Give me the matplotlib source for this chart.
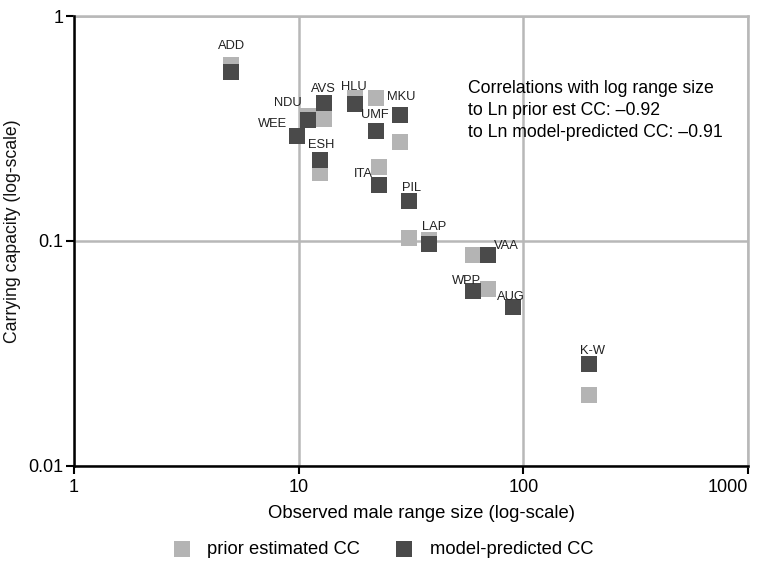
import matplotlib
matplotlib.use("Agg")
import matplotlib.pyplot as plt
import numpy as np

plt.rcParams['font.family'] = ['Liberation Sans', 'DejaVu Sans']

sites = ['ADD', 'AVS', 'NDU', 'WEE', 'HLU', 'UMF', 'MKU', 'ESH', 'ITA',
         'PIL', 'LAP', 'WPP', 'VAA', 'AUG', 'K-W']
range_size = [5.0, 12.9, 11.0, 9.8, 17.9, 22.1, 28.3, 12.5, 22.7,
              31.0, 38.0, 59.4, 69.6, 90.2, 197]
prior_cc = [0.608, 0.350, 0.360, 0.294, 0.432, 0.432, 0.275, 0.201, 0.213,
            0.103, 0.101, 0.087, 0.061, 0.051, 0.0207]
model_cc = [0.566, 0.410, 0.346, 0.294, 0.408, 0.310, 0.365, 0.230, 0.178,
            0.150, 0.097, 0.060, 0.087, 0.0508, 0.0284]

# label offsets (pixels) from the model-predicted marker
lab_off = {'ADD': (0, 26), 'AVS': (0, 14), 'NDU': (-20, 17), 'WEE': (-24, 12),
           'HLU': (-2, 17), 'UMF': (-1, 16), 'MKU': (1, 18), 'ESH': (1, 15),
           'ITA': (-15, 11), 'PIL': (3, 13), 'LAP': (5, 17), 'WPP': (-6, 10),
           'VAA': (18, 9), 'AUG': (-2, 10), 'K-W': (3, 13)}

light = '#b4b4b4'
dark = '#4a4a4a'
grid_c = '#b8b8b8'

fig = plt.figure(figsize=(7.58, 5.61), dpi=100)
ax = fig.add_axes([74/758, 1-465.5/561, (748-74)/758, (465.5-16.5)/561])

ax.set_xscale('log')
ax.set_yscale('log')
ax.set_xlim(1, 1000)
ax.set_ylim(0.01, 1)

ax.scatter(range_size, prior_cc, marker='s', s=135, color=light, linewidths=0,
           zorder=3, label='prior estimated CC')
ax.scatter(range_size, model_cc, marker='s', s=135, color=dark, linewidths=0,
           zorder=4, label='model-predicted CC')

for name, x, y in zip(sites, range_size, model_cc):
    dx, dy = lab_off[name]
    ax.annotate(name, (x, y), xytext=(dx, dy), textcoords='offset pixels',
                ha='center', va='center', fontsize=9.3, color='#222222', zorder=5)

ax.set_xticks([1, 10, 100, 1000])
ax.set_xticklabels(['1', '10', '100', '1000'])
ax.set_yticks([0.01, 0.1, 1])
ax.set_yticklabels(['0.01', '0.1', '1'])
ax.minorticks_off()
ax.tick_params(axis='both', direction='out', length=5.5, width=1.5, color='black',
               labelsize=13, pad=2)
ax.tick_params(axis='x', pad=4)
ax.get_xticklabels()[-1].set_horizontalalignment('right')
ax.grid(True, color=grid_c, linewidth=1.8, zorder=0)
ax.set_axisbelow(True)

for side in ['left', 'bottom']:
    ax.spines[side].set_color('black')
    ax.spines[side].set_linewidth(1.8)
    ax.spines[side].set_zorder(6)
for side in ['top', 'right']:
    ax.spines[side].set_color(grid_c)
    ax.spines[side].set_linewidth(1.8)

ax.set_xlabel('Observed male range size (log-scale)', fontsize=13.3)
ax.xaxis.set_label_coords(0.515, -0.087)
ax.set_ylabel('Carrying capacity (log-scale)', fontsize=12.7, color='#111111')
ax.yaxis.set_label_coords(-0.078, 0.522)

ax.text(0.585, 0.859, 'Correlations with log range size\n'
        'to Ln prior est CC: \u20130.92\n'
        'to Ln model-predicted CC: \u20130.91',
        transform=ax.transAxes, fontsize=12.7, va='top', ha='left',
        linespacing=1.38, zorder=2)

fig.legend(loc='center', bbox_to_anchor=(383/758, 1-549/561), ncol=2,
           frameon=False, fontsize=13.2, columnspacing=1.9, handlelength=1.0,
           handletextpad=0.9, scatterpoints=1)

fig.savefig('out.png', dpi=100)
